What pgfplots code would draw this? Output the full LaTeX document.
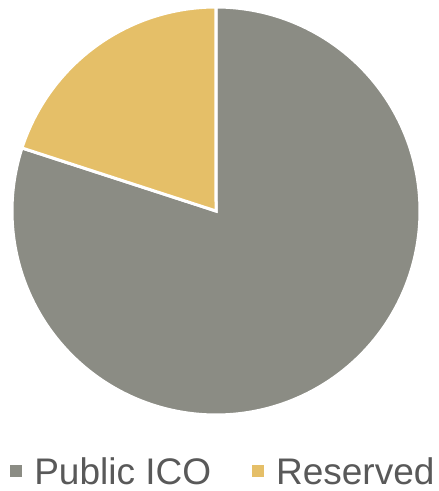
\documentclass[border=0pt]{standalone}
\usepackage{pgfplots}
\pgfplotsset{compat=1.18}
\usetikzlibrary{calc}
\usepackage{fontspec}
\setmainfont{Liberation Sans}
\definecolor{icogray}{RGB}{139,140,132}
\definecolor{resgold}{RGB}{229,191,104}
\definecolor{txtgray}{RGB}{89,89,89}
\begin{document}
\begin{tikzpicture}[x=1pt,y=1pt]
% data (percent)
\pgfmathsetmacro{\vA}{80}
\pgfmathsetmacro{\vB}{20}
\pgfmathsetmacro{\tot}{\vA+\vB}
\pgfmathsetmacro{\aStart}{90}
\pgfmathsetmacro{\aMid}{90-360*(\vA/\tot)}
\pgfmathsetmacro{\aEnd}{\aMid-360*(\vB/\tot)}
\begin{axis}[
  scale only axis, width=408pt, height=408pt,
  xmin=-1, xmax=1, ymin=-1, ymax=1,
  hide axis, clip=false,
  legend columns=2,
  legend style={draw=none, fill=none, at={(-0.012,-0.174)}, anchor=south west,
    font=\fontsize{37}{44}\selectfont, text=txtgray,
    /tikz/every odd column/.append style={column sep=9pt},
    /tikz/every even column/.append style={column sep=38pt},
    inner sep=0pt, nodes={inner sep=0pt}, cells={anchor=west}},
  legend image code/.code={\fill[#1] (0pt,-7pt) rectangle (15pt,8pt);},
]
\addplot[fill=icogray, draw=white, line width=3pt, domain=\aMid:\aStart, samples=200, variable=\t]
  ({cos(\t)}, {sin(\t)}) -- (axis cs:0,0) -- cycle;
\addplot[fill=resgold, draw=white, line width=3pt, domain=\aEnd:\aMid, samples=80, variable=\t]
  ({cos(\t)}, {sin(\t)}) -- (axis cs:0,0) -- cycle;
\legend{Public ICO, Reserved}
\coordinate (ctr) at (axis cs:0,0);
\end{axis}
\pgfresetboundingbox
\path ($(ctr)+(-216,-280)$) rectangle ($(ctr)+(223,211)$);
\end{tikzpicture}
\end{document}
